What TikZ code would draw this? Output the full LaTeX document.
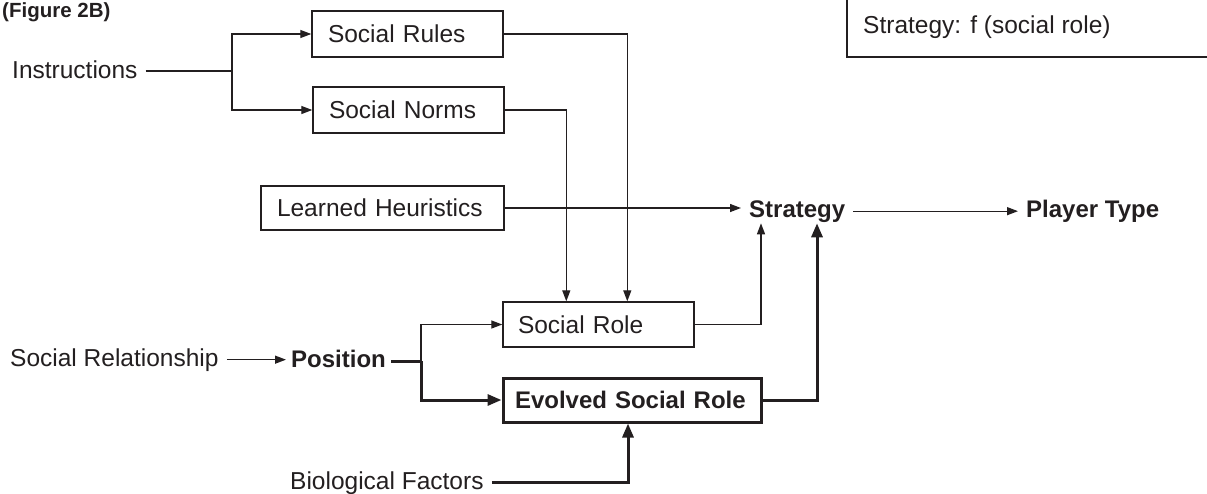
\documentclass[tikz,border=0pt]{standalone}
\usepackage{fontspec}
\setmainfont{Liberation Sans}
\usetikzlibrary{arrows.meta,calc}
\definecolor{ink}{HTML}{231F20}
\begin{document}
\begin{tikzpicture}[x=1pt,y=-1pt,
  every node/.style={font=\fontsize{24.5}{29}\selectfont, text=ink},
  lbl/.style={inner xsep=8pt, inner ysep=1pt},
  blbl/.style={lbl, font=\fontsize{24}{29}\selectfont\bfseries},
  box/.style={draw=ink, line width=1.4pt, inner xsep=16pt, inner ysep=0pt, align=left},
  thinln/.style={draw=ink, line width=1.3pt},
  thkln/.style={draw=ink, line width=3pt},
  tarr/.style={thinln, -{Triangle[length=11pt,width=8pt]}},
  karr/.style={thkln, -{Triangle[length=14pt,width=11pt]}},
]
\useasboundingbox (0,0) rectangle (1207,493);

% title
\node[anchor=base west, inner sep=0pt, font=\fontsize{20.5}{24}\selectfont\bfseries] (fig) at (2,17) {(Figure 2B)};

% legend box
\draw[draw=ink, line width=1.4pt] (847,-10) rectangle (1215,57);
\node[anchor=base west, inner sep=0pt] (legend) at (863,33) {Strategy: f (social role)};

% plain labels
\node[lbl, anchor=base west] (instr) at (4,78) {Instructions};
\node[lbl, anchor=base west] (socrel) at (2,366) {Social Relationship};
\node[blbl, anchor=base west, inner xsep=5pt] (pos) at (286,367) {Position};
\node[lbl, anchor=base west] (bio) at (282,489) {Biological Factors};
\node[blbl, anchor=base west] (strat) at (741,217) {Strategy};
\node[blbl, anchor=base west] (player) at (1018,217) {Player Type};

% boxes
\node[box, text width=159pt, minimum height=46pt] (rules) at (407.5,34) {Social Rules};
\node[box, text width=159pt, minimum height=46pt] (norms) at (408.5,110) {Social Norms};
\node[box, text width=211pt, minimum height=44pt] (learned) at (382.5,208) {Learned Heuristics};
\node[box, text width=161pt, inner xsep=15pt, minimum height=45pt] (role) at (598.5,324.5) {Social Role};
\node[box, line width=3pt, text width=234pt, inner xsep=12pt, minimum height=44pt, font=\fontsize{24}{29}\selectfont\bfseries] (evolved) at (632,400) {Evolved Social Role};

% junctions
\coordinate (j1) at (232,71);
\coordinate (j2) at (421,361);

% connectors
\draw[thinln] (instr.east |- j1) -- (j1);
\draw[tarr] (j1) |- (rules.west);
\draw[tarr] (j1) |- (norms.west);

\draw[tarr] (rules.east) -| ([xshift=125pt]role.north west);
\draw[tarr] (norms.east) -| ([xshift=64pt]role.north west);

\draw[tarr] (learned.east) -- (learned.east -| strat.west);
\draw[tarr] (strat.east) -- (strat.east -| player.west);

\draw[tarr] (socrel.east) -- (socrel.east -| pos.west);
\draw[thkln] (pos.east |- j2) -- (j2);
\draw[tarr] (j2) |- (role.west);
\draw[karr] (j2) |- (evolved.west);

\draw[tarr] (role.east) -| ([xshift=20pt]strat.south west);
\draw[karr] (evolved.east) -| ([xshift=76pt]strat.south west);

\draw[karr] (bio.east) -| ([xshift=-4pt]evolved.south);
\end{tikzpicture}
\end{document}
